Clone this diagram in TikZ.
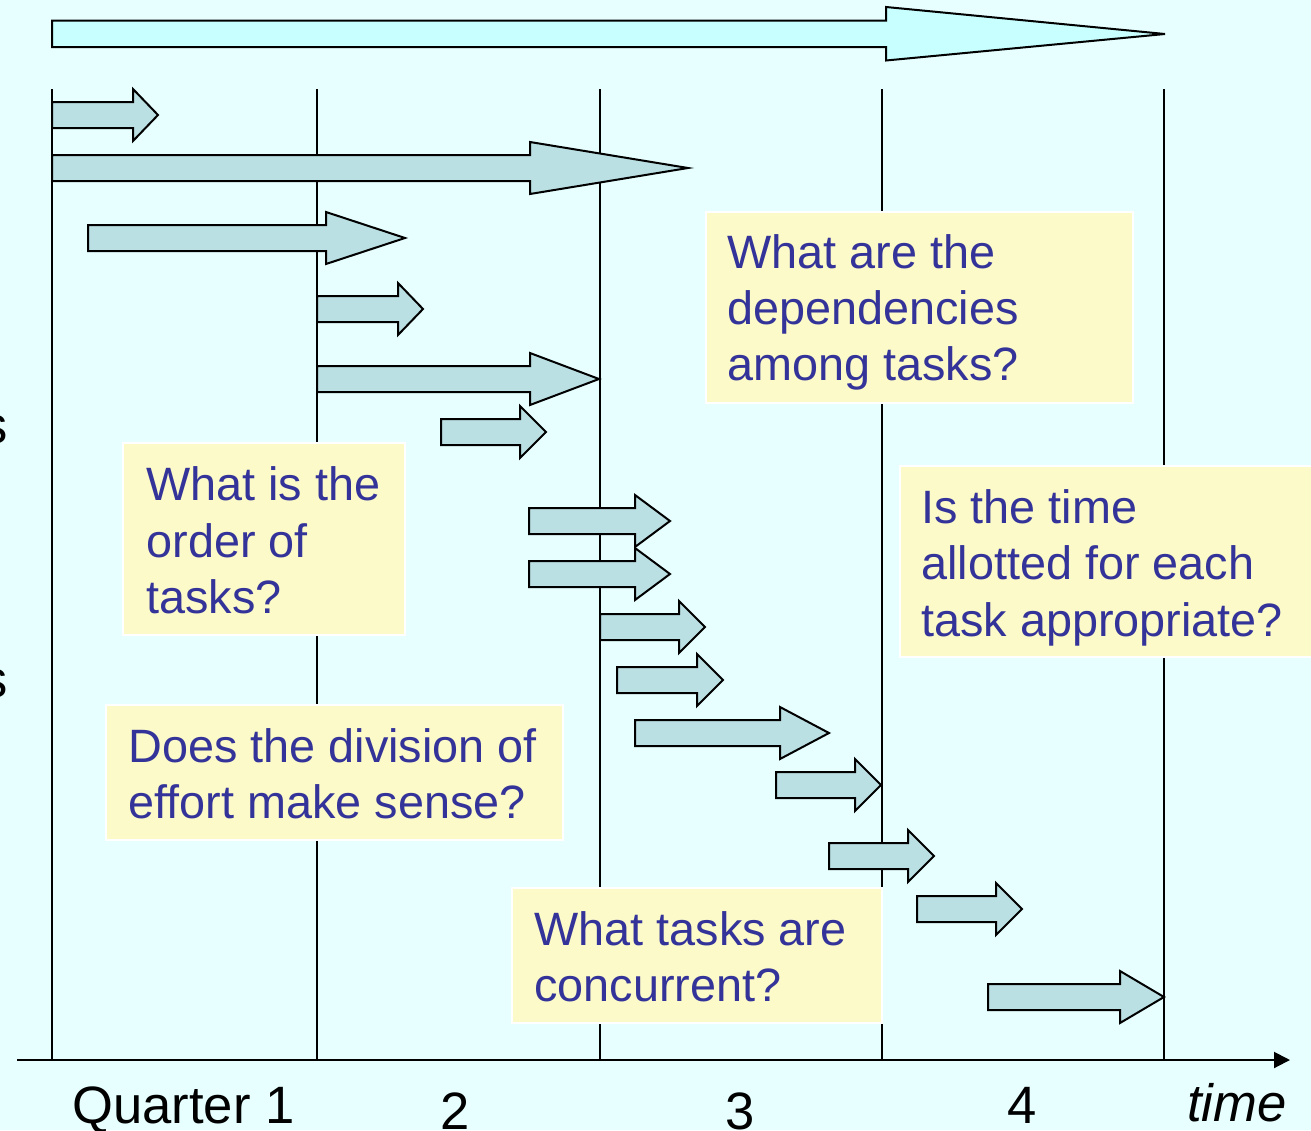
\documentclass[tikz,border=0pt]{standalone}
\usepackage{fontspec}
\setmainfont{Liberation Sans}
\usetikzlibrary{arrows.meta,fit}

\definecolor{bgcyan}{RGB}{232,255,255}
\definecolor{barcyan}{RGB}{200,255,255}
\definecolor{taskfill}{RGB}{187,224,227}
\definecolor{notefill}{RGB}{252,250,200}
\definecolor{noteblue}{RGB}{51,51,153}

\tikzset{
  toparrow/.style={fill=barcyan, draw=black, line width=1pt, line join=miter},
  taskarrow/.style={fill=taskfill, draw=black, line width=1pt, line join=miter},
  gridline/.style={draw=black, line width=0.9pt},
  notebox/.style={fill=notefill, draw=white, line width=1pt, inner sep=0pt},
  notetext/.style={anchor=base west, inner sep=0pt, text=noteblue,
    font=\fontsize{23.4}{28}\selectfont},
  axislabel/.style={inner sep=0pt, text=black, font=\fontsize{26.3}{31}\selectfont},
}

% block arrow: start x, head base x, tip x, centre y
\newcommand{\taskarrow}[4]{%
  \draw[taskarrow] (#1,#4-13) -- (#2,#4-13) -- (#2,#4-26) -- (#3,#4)
    -- (#2,#4+26) -- (#2,#4+13) -- (#1,#4+13) -- cycle;}

\begin{document}
\begin{tikzpicture}[x=0.5pt, y=-0.5pt]
  \fill[bgcyan] (0,0) rectangle (1311,1130);
  \useasboundingbox (0,0) rectangle (1311,1130);

  % overall project span
  \draw[toparrow] (52,20.5) -- (886,20.5) -- (886,7) -- (1165,34)
    -- (886,60.5) -- (886,47) -- (52,47) -- cycle;

  % quarter boundaries
  \foreach \x [count=\i] in {52,317,600,882,1164} {
    \coordinate (top\i) at (\x,89);
    \coordinate (bot\i) at (\x,1060);
    \draw[gridline] (top\i) -- (bot\i);
  }

  % tasks
  \taskarrow{52}{133}{158}{115}
  \taskarrow{52}{530}{688}{168}
  \taskarrow{88}{326}{405}{238}
  \taskarrow{317}{398}{423}{309}
  \taskarrow{317}{530}{599}{379}
  \taskarrow{441}{520}{546}{432}
  \taskarrow{529}{635}{670}{521}
  \taskarrow{529}{635}{670}{574}
  \taskarrow{600}{679}{705}{627}
  \taskarrow{617}{697}{723}{680}
  \taskarrow{635}{780}{829}{733}
  \taskarrow{776}{855}{881}{785}
  \taskarrow{829}{908}{934}{856}
  \taskarrow{917}{996}{1022}{909}
  \taskarrow{988}{1120}{1164}{997}

  % time axis
  \coordinate (axstart) at (17,1060);
  \coordinate (axend) at (1290,1060);
  \draw[line width=1pt, -{Triangle[length=8pt,width=8pt]}] (axstart) -- (axend);

  \node[axislabel, anchor=base west] (q1) at (72,1123) {Quarter 1};
  \node[axislabel, anchor=base] (q2) at (455,1129) {2};
  \node[axislabel, anchor=base] (q3) at (740,1129) {3};
  \node[axislabel, anchor=base] (q4) at (1022,1123) {4};
  \node[axislabel, anchor=base, font=\fontsize{26.3}{31}\selectfont\itshape] (tm) at (1237,1121) {time};

  % clipped letters at the left edge
  \node[axislabel, anchor=base east] (s1) at (8,443) {s};
  \node[axislabel, anchor=base east] (s2) at (8,697) {s};

  % question notes
  \node[notebox, fit={(706,212) (1133,403)}] (depbox) {};
  \node[notetext] (dep1) at (727,268) {What are the};
  \node[notetext] (dep2) at (727,324) {dependencies};
  \node[notetext] (dep3) at (727,380) {among tasks?};

  \node[notebox, fit={(123,443) (405,635)}] (ordbox) {};
  \node[notetext] (ord1) at (146,500) {What is the};
  \node[notetext] (ord2) at (146,557) {order of};
  \node[notetext] (ord3) at (146,613) {tasks?};

  \node[notebox, fit={(900,466) (1313,657)}] (timbox) {};
  \node[notetext] (tim1) at (921,523) {Is the time};
  \node[notetext] (tim2) at (921,579) {allotted for each};
  \node[notetext] (tim3) at (921,636) {task appropriate?};

  \node[notebox, fit={(106,705) (563,840)}] (divbox) {};
  \node[notetext] (div1) at (128,762) {Does the division of};
  \node[notetext] (div2) at (128,818) {effort make sense?};

  \node[notebox, fit={(512,888) (882,1023)}] (conbox) {};
  \node[notetext] (con1) at (534,945) {What tasks are};
  \node[notetext] (con2) at (534,1001) {concurrent?};
\end{tikzpicture}
\end{document}
